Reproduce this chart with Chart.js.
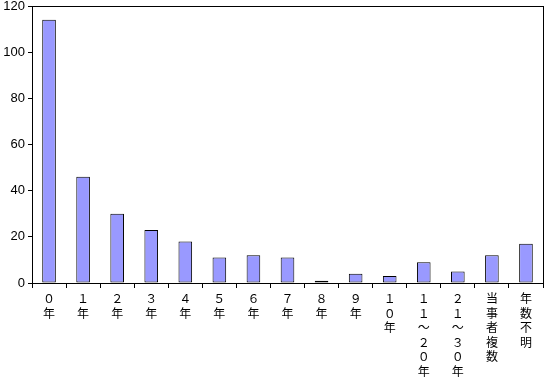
<!DOCTYPE html>
<html>
<head>
<meta charset="utf-8">
<script src="https://cdn.jsdelivr.net/npm/chart.js@4/dist/chart.umd.min.js"></script>
<style>
  html, body { margin: 0; padding: 0; background: #fff; }
  #wrap { width: 544px; height: 380px; }
</style>
</head>
<body>
<div id="wrap"><canvas id="barChart" width="544" height="380"></canvas></div>
<script>
// Categories (vertical labels, one char per line)
const categories = [
    ['０', '年'], ['１', '年'], ['２', '年'], ['３', '年'], ['４', '年'],
    ['５', '年'], ['６', '年'], ['７', '年'], ['８', '年'], ['９', '年'],
    ['１', '０', '年'],
    ['１', '１', '～', '２', '０', '年'],
    ['２', '１', '～', '３', '０', '年'],
    ['当', '事', '者', '複', '数'],
    ['年', '数', '不', '明']
];
const counts = [114, 46, 30, 23, 18, 11, 12, 11, 1, 4, 3, 9, 5, 12, 17];
const yMin = 0, yMax = 120, yStep = 20;

// Draw black frame around the plot area
const framePlugin = {
    id: 'frame',
    afterDraw(chart) {
        const a = chart.chartArea, ctx = chart.ctx;
        ctx.save();
        ctx.strokeStyle = '#000';
        ctx.lineWidth = 1;
        ctx.strokeRect(Math.round(a.left) + 0.5, Math.round(a.top) + 0.5,
            Math.round(a.right - a.left), Math.round(a.bottom - a.top));
        ctx.restore();
    }
};

const ctx = document.getElementById('barChart').getContext('2d');
const barChart = new Chart(ctx, {
    type: 'bar',
    data: {
        labels: categories,
        datasets: [{
            data: counts,
            backgroundColor: '#9999FF',
            borderColor: '#000',
            borderWidth: 1,
            borderSkipped: false,
            barPercentage: 0.4,
            categoryPercentage: 1.0
        }]
    },
    options: {
        responsive: false,
        animation: false,
        layout: { padding: { top: 0, right: 1, left: 0, bottom: 0 } },
        plugins: { legend: { display: false }, tooltip: { enabled: false } },
        scales: {
            x: {
                afterFit(scale) { scale.height = 97; },
                grid: {
                    offset: true,
                    drawOnChartArea: false,
                    color: '#000',
                    tickLength: 5
                },
                border: { color: '#000' },
                ticks: {
                    color: '#000',
                    maxRotation: 0,
                    autoSkip: false,
                    padding: 3,
                    font: { family: '"Noto Sans CJK JP"', size: 12, lineHeight: 1.22 }
                }
            },
            y: {
                min: yMin,
                max: yMax,
                afterFit(scale) {
                    scale.width = 32;
                    scale.paddingTop = 6;
                },
                grid: {
                    drawOnChartArea: false,
                    color: '#000',
                    tickLength: 4
                },
                border: { color: '#000' },
                ticks: {
                    stepSize: yStep,
                    color: '#000',
                    padding: 3,
                    font: { family: '"Liberation Sans", Arial', size: 13 }
                }
            }
        }
    },
    plugins: [framePlugin]
});
</script>
</body>
</html>
